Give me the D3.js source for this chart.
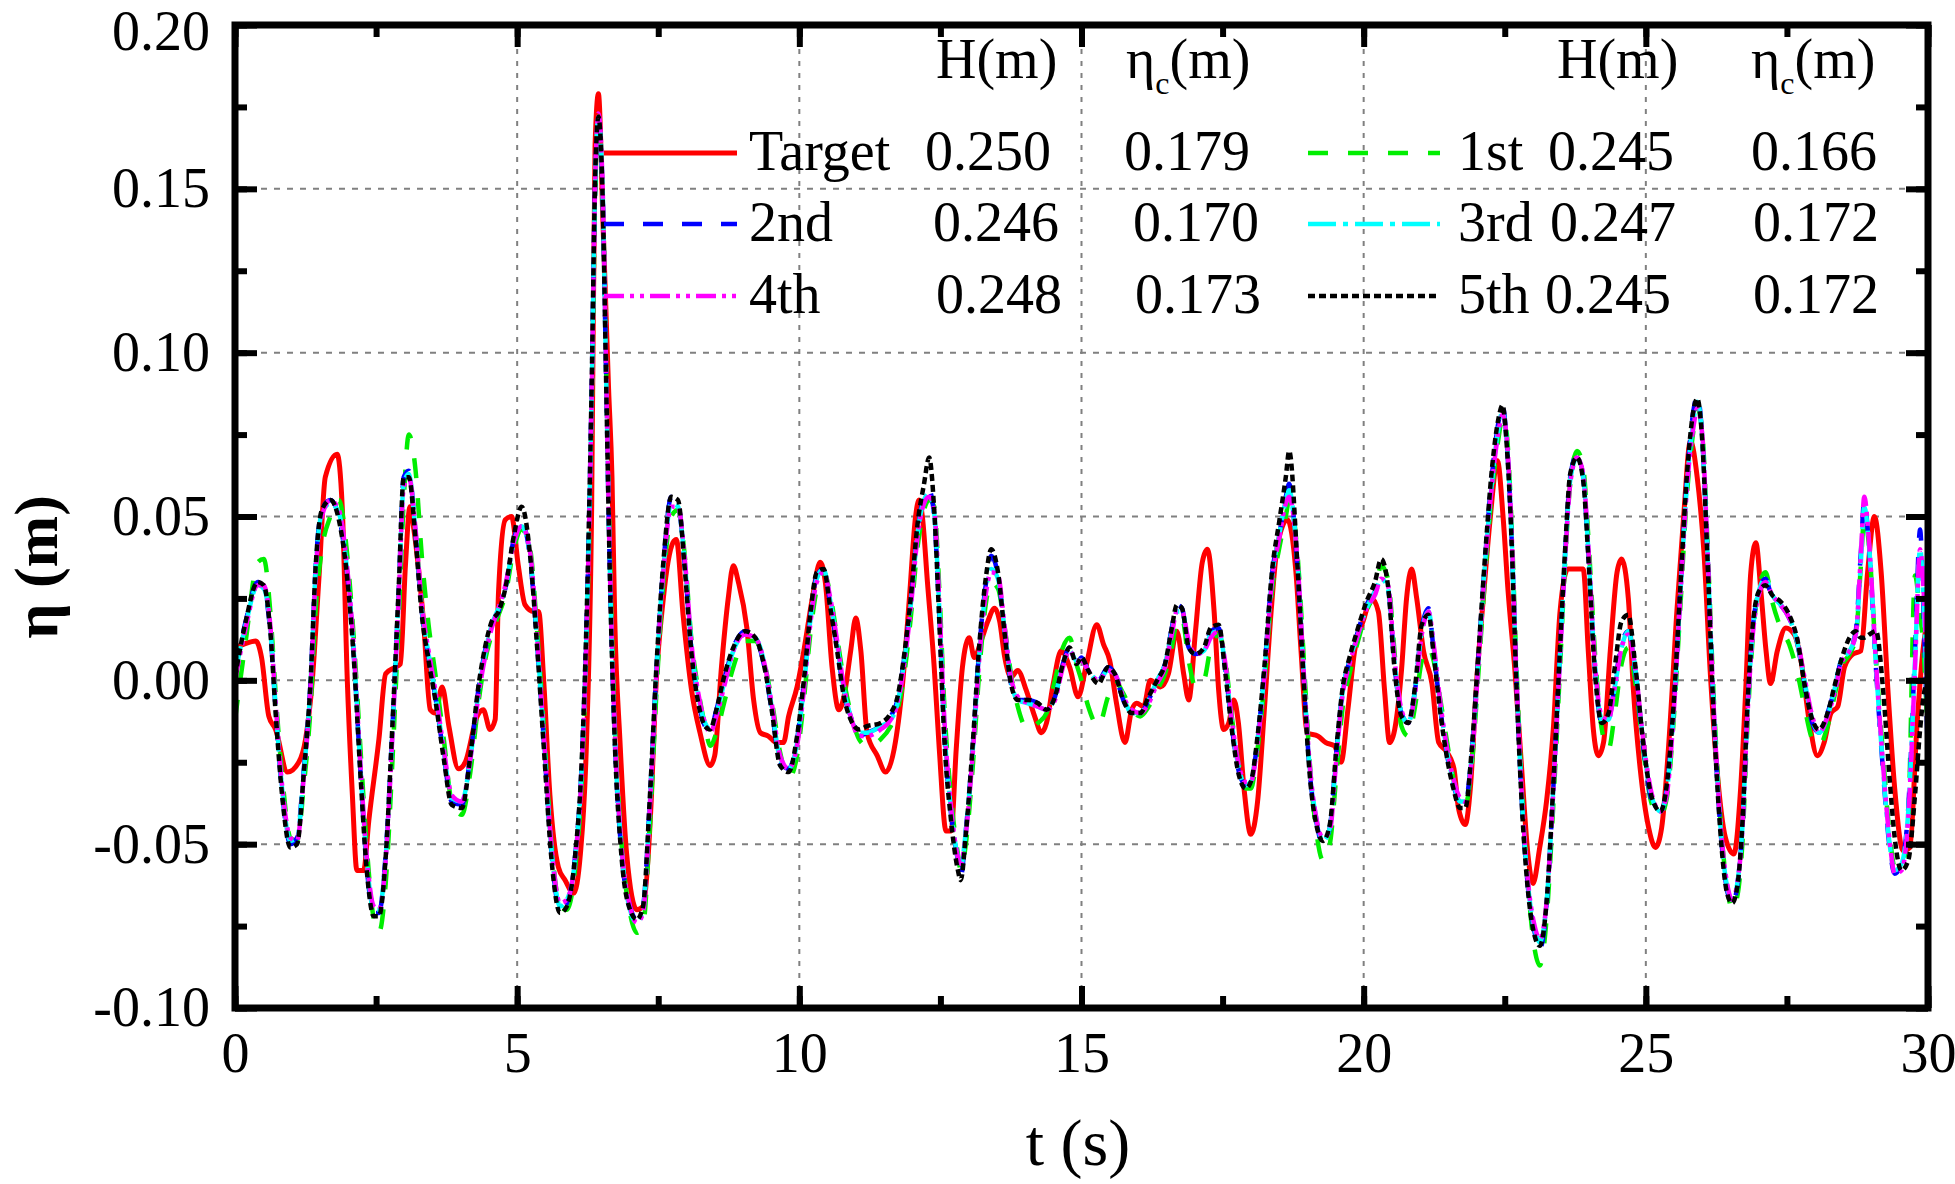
<!DOCTYPE html>
<html>
<head>
<meta charset="utf-8">
<script src="https://cdn.jsdelivr.net/npm/d3@7"></script>
<style>
  body { margin: 0; background: #fff; }
  svg { display: block; font-family: "Liberation Serif", "Times New Roman", serif; }
</style>
</head>
<body>
<svg id="chart"></svg>
<script>
// ---- data ----
const runNames = ["Target", "1st", "2nd", "3rd", "4th", "5th"];
const runH = [0.250, 0.245, 0.246, 0.247, 0.248, 0.245];
const runEtaC = [0.179, 0.166, 0.170, 0.172, 0.173, 0.172];

const xTicks = [0, 5, 10, 15, 20, 25, 30];
const yTicks = [-0.10, -0.05, 0.00, 0.05, 0.10, 0.15, 0.20];

// target wave
const tTarget = [
  0.00,0.15,0.37,0.47,0.60,0.72,0.93,1.13,1.25,1.37,
  1.49,1.60,1.81,1.90,1.99,2.08,2.16,2.28,2.37,2.55,
  2.67,2.84,2.93,3.02,3.10,3.17,3.34,3.46,3.55,3.67,
  3.79,3.96,4.08,4.29,4.40,4.52,4.61,4.67,4.79,4.90,
  5.02,5.14,5.29,5.38,5.47,5.58,5.73,5.85,6.00,6.12,
  6.23,6.32,6.38,6.44,6.52,6.62,6.68,6.73,6.82,6.94,
  7.12,7.23,7.38,7.45,7.59,7.76,7.82,7.94,8.09,8.24,
  8.42,8.50,8.62,8.74,8.83,8.92,9.07,9.19,9.31,9.45,
  9.60,9.72,9.81,9.96,10.08,10.23,10.37,10.46,10.58,10.70,
  10.79,10.91,11.00,11.09,11.20,11.38,11.53,11.68,11.83,11.95,
  12.06,12.12,12.18,12.27,12.39,12.48,12.60,12.69,12.78,12.89,
  13.01,13.10,13.22,13.34,13.46,13.55,13.64,13.75,13.87,14.02,
  14.17,14.29,14.38,14.50,14.64,14.79,14.94,15.09,15.27,15.39,
  15.50,15.62,15.77,15.89,15.98,16.10,16.22,16.40,16.54,16.69,
  16.81,16.90,17.02,17.14,17.23,17.35,17.43,17.52,17.61,17.70,
  17.78,17.88,18.00,18.12,18.24,18.36,18.47,18.65,18.80,18.89,
  19.00,19.19,19.33,19.48,19.60,19.72,19.84,19.99,20.14,20.26,
  20.37,20.46,20.55,20.67,20.76,20.85,20.94,21.06,21.21,21.33,
  21.48,21.60,21.68,21.80,21.89,22.00,22.13,22.24,22.37,22.47,
  22.56,22.68,22.80,22.91,23.00,23.12,23.24,23.36,23.48,23.62,
  23.77,23.89,23.98,24.07,24.16,24.25,24.37,24.49,24.57,24.69,
  24.78,24.90,25.05,25.17,25.28,25.40,25.55,25.67,25.79,25.91,
  26.03,26.14,26.26,26.41,26.56,26.68,26.77,26.86,26.95,27.04,
  27.13,27.21,27.33,27.48,27.63,27.75,27.90,28.04,28.16,28.28,
  28.40,28.52,28.67,28.81,28.93,29.05,29.17,29.29,29.41,29.56,
  29.68,29.80,29.91,30.00
];
const etaTarget = [
  0.010,0.011,0.012,0.007,-0.011,-0.015,-0.028,-0.025,-0.018,0.000,
  0.032,0.062,0.069,0.053,0.000,-0.035,-0.058,-0.058,-0.043,-0.018,
  0.002,0.004,0.005,0.035,0.053,0.046,0.018,-0.009,-0.010,-0.002,
  -0.014,-0.027,-0.025,-0.011,-0.009,-0.015,-0.012,0.027,0.049,0.050,
  0.035,0.023,0.021,0.021,0.000,-0.035,-0.057,-0.061,-0.065,-0.053,
  -0.018,0.053,0.163,0.179,0.140,0.089,0.062,0.018,-0.018,-0.053,
  -0.070,-0.069,-0.035,-0.005,0.025,0.042,0.043,0.020,-0.003,-0.016,
  -0.026,-0.023,0.004,0.025,0.035,0.030,0.016,-0.006,-0.016,-0.017,
  -0.019,-0.019,-0.011,-0.002,0.009,0.025,0.036,0.030,0.004,-0.009,
  -0.005,0.009,0.019,0.009,-0.016,-0.023,-0.028,-0.021,-0.001,0.025,
  0.050,0.055,0.050,0.030,0.004,-0.021,-0.046,-0.046,-0.021,0.004,
  0.013,0.007,0.012,0.018,0.022,0.018,0.007,0.001,0.003,-0.003,
  -0.011,-0.016,-0.013,-0.001,0.009,0.004,-0.005,0.005,0.017,0.011,
  0.006,-0.007,-0.019,-0.009,-0.007,-0.008,0.000,-0.002,0.002,0.015,
  0.002,-0.006,0.015,0.036,0.040,0.021,-0.003,-0.015,-0.013,-0.006,
  -0.013,-0.033,-0.047,-0.037,-0.009,0.021,0.041,0.049,0.033,0.009,
  -0.016,-0.017,-0.019,-0.020,-0.025,-0.009,0.009,0.018,0.025,0.021,
  -0.003,-0.019,-0.015,0.003,0.025,0.034,0.025,0.009,-0.001,-0.019,
  -0.022,-0.027,-0.039,-0.044,-0.033,-0.001,0.027,0.049,0.067,0.050,
  0.027,0.003,-0.027,-0.053,-0.062,-0.051,-0.037,-0.015,0.021,0.034,
  0.034,0.034,0.009,-0.015,-0.023,-0.019,0.009,0.033,0.037,0.025,
  -0.003,-0.027,-0.045,-0.051,-0.045,-0.021,0.021,0.050,0.073,0.062,
  0.039,0.003,-0.027,-0.048,-0.053,-0.033,-0.003,0.033,0.042,0.027,
  0.009,-0.001,0.009,0.016,0.014,0.006,-0.013,-0.023,-0.019,-0.010,
  -0.008,0.004,0.008,0.009,0.033,0.050,0.033,-0.003,-0.033,-0.052,
  -0.051,-0.015,0.009,0.020
];

// shared time base of the five generated runs
const tRun = [
  0.00,0.19,0.40,0.51,0.63,0.72,0.84,0.98,1.10,1.22,
  1.34,1.43,1.54,1.69,1.84,1.99,2.10,2.22,2.34,2.46,
  2.55,2.67,2.78,2.90,2.99,3.08,3.20,3.31,3.43,3.55,
  3.70,3.84,4.02,4.17,4.32,4.43,4.55,4.67,4.79,4.94,
  5.08,5.23,5.35,5.47,5.61,5.76,5.88,6.03,6.14,6.23,
  6.32,6.38,6.44,6.51,6.58,6.64,6.73,6.85,7.00,7.12,
  7.23,7.35,7.47,7.59,7.73,7.85,7.97,8.09,8.21,8.33,
  8.42,8.53,8.68,8.83,9.04,9.22,9.37,9.51,9.66,9.81,
  9.96,10.08,10.20,10.31,10.43,10.55,10.67,10.79,10.91,11.06,
  11.20,11.44,11.62,11.74,11.86,11.98,12.09,12.21,12.30,12.39,
  12.48,12.57,12.69,12.81,12.86,12.95,13.07,13.19,13.31,13.40,
  13.52,13.64,13.75,13.87,14.05,14.23,14.38,14.53,14.67,14.79,
  14.91,15.00,15.12,15.30,15.47,15.59,15.74,15.89,16.04,16.19,
  16.34,16.48,16.60,16.69,16.78,16.90,17.02,17.17,17.29,17.43,
  17.55,17.67,17.79,17.91,18.00,18.12,18.24,18.38,18.50,18.62,
  18.68,18.83,18.95,19.04,19.16,19.28,19.40,19.52,19.63,19.75,
  19.90,20.05,20.20,20.31,20.43,20.55,20.67,20.79,20.91,21.03,
  21.15,21.24,21.36,21.47,21.59,21.71,21.80,21.92,22.04,22.16,
  22.27,22.39,22.46,22.53,22.62,22.70,22.79,22.91,23.03,23.12,
  23.24,23.36,23.48,23.57,23.66,23.78,23.89,23.98,24.10,24.22,
  24.34,24.45,24.57,24.69,24.81,24.96,25.11,25.26,25.37,25.49,
  25.61,25.73,25.85,25.91,26.00,26.09,26.20,26.32,26.44,26.53,
  26.62,26.71,26.80,26.89,27.00,27.12,27.24,27.39,27.54,27.69,
  27.81,27.95,28.07,28.22,28.34,28.46,28.61,28.72,28.81,28.87,
  28.96,29.08,29.20,29.32,29.41,29.53,29.65,29.77,29.86,29.92,
  30.00
];
const eta1st = [
  -0.012,0.012,0.036,0.037,0.020,-0.004,-0.030,-0.048,-0.049,-0.032,
  -0.008,0.022,0.040,0.050,0.055,0.038,0.014,-0.020,-0.052,-0.073,
  -0.077,-0.062,-0.028,0.018,0.055,0.075,0.064,0.038,0.017,0.002,
  -0.018,-0.037,-0.041,-0.028,-0.006,0.006,0.014,0.020,0.026,0.040,
  0.046,0.040,0.016,-0.014,-0.050,-0.069,-0.070,-0.057,-0.032,0.012,
  0.082,0.145,0.166,0.150,0.092,0.040,-0.013,-0.050,-0.071,-0.077,
  -0.075,-0.045,-0.003,0.030,0.050,0.052,0.038,0.012,-0.003,-0.014,
  -0.020,-0.016,-0.006,0.004,0.012,0.012,0.006,-0.006,-0.022,-0.030,
  -0.023,-0.006,0.015,0.028,0.033,0.026,0.013,0.000,-0.010,-0.018,
  -0.020,-0.018,-0.014,-0.009,0.002,0.020,0.040,0.052,0.055,0.053,
  0.028,-0.008,-0.036,-0.053,-0.058,-0.050,-0.027,0.003,0.024,0.030,
  0.028,0.016,0.002,-0.008,-0.015,-0.013,-0.010,0.000,0.010,0.013,
  0.005,0.000,-0.008,-0.014,-0.005,0.000,-0.004,-0.009,-0.011,-0.008,
  -0.003,0.002,0.010,0.018,0.019,0.006,-0.002,0.000,0.010,0.014,
  0.006,-0.012,-0.026,-0.033,-0.033,-0.021,-0.001,0.028,0.040,0.050,
  0.055,0.038,0.003,-0.024,-0.046,-0.055,-0.050,-0.028,-0.008,0.002,
  0.012,0.021,0.027,0.035,0.031,0.008,-0.014,-0.017,-0.008,0.006,
  0.010,0.006,-0.006,-0.018,-0.030,-0.037,-0.038,-0.025,0.004,0.034,
  0.057,0.074,0.080,0.076,0.048,0.008,-0.029,-0.062,-0.082,-0.087,
  -0.073,-0.038,0.004,0.036,0.060,0.070,0.065,0.044,0.008,-0.015,
  -0.021,-0.010,0.005,0.010,0.000,-0.022,-0.038,-0.041,-0.036,-0.013,
  0.022,0.057,0.077,0.083,0.076,0.043,-0.004,-0.042,-0.063,-0.070,
  -0.066,-0.050,-0.014,0.012,0.028,0.033,0.024,0.016,0.011,0.002,
  -0.008,-0.018,-0.020,-0.014,-0.005,0.004,0.008,0.013,0.035,0.050,
  0.040,0.006,-0.022,-0.047,-0.057,-0.057,-0.042,0.032,0.020,0.010,
  -0.020
];
const eta2nd = [
  0.003,0.018,0.030,0.028,0.014,-0.009,-0.035,-0.050,-0.048,-0.027,
  0.000,0.035,0.052,0.055,0.050,0.032,0.009,-0.027,-0.058,-0.071,
  -0.071,-0.053,-0.018,0.027,0.062,0.064,0.044,0.021,0.007,-0.005,
  -0.023,-0.037,-0.038,-0.023,-0.002,0.009,0.017,0.021,0.028,0.043,
  0.048,0.037,0.012,-0.018,-0.053,-0.070,-0.068,-0.053,-0.027,0.018,
  0.089,0.151,0.170,0.151,0.089,0.035,-0.018,-0.053,-0.069,-0.073,
  -0.069,-0.037,0.004,0.035,0.056,0.054,0.035,0.009,-0.006,-0.014,
  -0.015,-0.009,0.001,0.010,0.015,0.013,0.005,-0.009,-0.025,-0.027,
  -0.018,-0.001,0.020,0.032,0.034,0.023,0.010,-0.004,-0.011,-0.017,
  -0.016,-0.014,-0.011,-0.006,0.007,0.025,0.045,0.056,0.058,0.050,
  0.020,-0.016,-0.041,-0.055,-0.060,-0.046,-0.021,0.010,0.030,0.038,
  0.032,0.015,-0.001,-0.006,-0.006,-0.007,-0.009,-0.005,0.005,0.010,
  0.005,0.007,0.003,0.000,0.004,0.002,-0.006,-0.010,-0.010,-0.006,
  0.000,0.005,0.016,0.023,0.022,0.010,0.008,0.009,0.015,0.016,
  0.003,-0.015,-0.028,-0.032,-0.031,-0.018,0.003,0.033,0.044,0.056,
  0.060,0.033,-0.003,-0.027,-0.043,-0.050,-0.045,-0.021,-0.003,0.006,
  0.015,0.023,0.027,0.030,0.028,0.004,-0.010,-0.013,-0.003,0.016,
  0.022,0.009,-0.009,-0.022,-0.032,-0.037,-0.037,-0.021,0.009,0.039,
  0.062,0.079,0.084,0.074,0.044,0.003,-0.033,-0.063,-0.077,-0.082,
  -0.069,-0.033,0.009,0.039,0.062,0.069,0.062,0.039,0.003,-0.013,
  -0.012,-0.001,0.011,0.015,0.003,-0.021,-0.037,-0.040,-0.033,-0.009,
  0.027,0.062,0.083,0.087,0.074,0.039,-0.009,-0.045,-0.064,-0.068,
  -0.063,-0.045,-0.009,0.015,0.027,0.031,0.025,0.023,0.019,0.011,
  -0.001,-0.013,-0.016,-0.010,-0.003,0.006,0.009,0.015,0.039,0.055,
  0.039,0.003,-0.027,-0.051,-0.059,-0.056,-0.039,0.009,0.046,0.021,
  -0.025
];
const eta3rd = [
  0.002,0.017,0.029,0.028,0.015,-0.008,-0.034,-0.049,-0.048,-0.028,
  -0.001,0.034,0.051,0.054,0.051,0.033,0.010,-0.026,-0.056,-0.070,
  -0.070,-0.054,-0.019,0.026,0.060,0.063,0.045,0.022,0.008,-0.004,
  -0.022,-0.036,-0.037,-0.024,-0.003,0.008,0.017,0.022,0.028,0.042,
  0.047,0.038,0.013,-0.017,-0.052,-0.069,-0.067,-0.054,-0.028,0.016,
  0.087,0.150,0.172,0.152,0.090,0.036,-0.017,-0.052,-0.070,-0.074,
  -0.070,-0.038,0.003,0.034,0.054,0.053,0.036,0.010,-0.005,-0.013,
  -0.015,-0.010,0.000,0.009,0.014,0.013,0.006,-0.008,-0.024,-0.027,
  -0.019,-0.002,0.019,0.031,0.034,0.024,0.011,-0.003,-0.011,-0.016,
  -0.016,-0.014,-0.012,-0.007,0.006,0.024,0.044,0.055,0.057,0.051,
  0.022,-0.014,-0.040,-0.054,-0.057,-0.046,-0.022,0.008,0.028,0.034,
  0.031,0.015,0.000,-0.006,-0.007,-0.008,-0.009,-0.005,0.005,0.009,
  0.006,0.006,0.003,0.000,0.003,0.002,-0.005,-0.010,-0.010,-0.006,
  0.000,0.005,0.015,0.021,0.021,0.011,0.008,0.009,0.014,0.015,
  0.004,-0.014,-0.027,-0.032,-0.031,-0.018,0.002,0.032,0.044,0.055,
  0.058,0.035,-0.002,-0.026,-0.042,-0.049,-0.045,-0.022,-0.003,0.006,
  0.014,0.022,0.027,0.031,0.028,0.005,-0.010,-0.013,-0.003,0.015,
  0.021,0.010,-0.008,-0.021,-0.031,-0.037,-0.037,-0.022,0.008,0.038,
  0.060,0.077,0.082,0.074,0.045,0.004,-0.032,-0.062,-0.076,-0.080,
  -0.068,-0.033,0.008,0.038,0.061,0.068,0.062,0.040,0.004,-0.012,
  -0.012,-0.002,0.010,0.015,0.004,-0.020,-0.036,-0.040,-0.034,-0.010,
  0.026,0.060,0.080,0.085,0.074,0.040,-0.008,-0.044,-0.063,-0.067,
  -0.062,-0.045,-0.010,0.014,0.027,0.031,0.026,0.023,0.019,0.011,
  0.000,-0.012,-0.016,-0.011,-0.003,0.006,0.009,0.014,0.036,0.053,
  0.040,0.004,-0.026,-0.050,-0.058,-0.056,-0.040,0.006,0.040,0.025,
  -0.018
];
const eta4th = [
  0.000,0.016,0.029,0.029,0.016,-0.007,-0.033,-0.048,-0.049,-0.029,
  -0.002,0.033,0.050,0.055,0.052,0.034,0.011,-0.025,-0.055,-0.069,
  -0.070,-0.055,-0.020,0.025,0.059,0.062,0.046,0.023,0.009,-0.003,
  -0.021,-0.035,-0.037,-0.024,-0.004,0.007,0.016,0.022,0.029,0.042,
  0.047,0.039,0.014,-0.016,-0.051,-0.068,-0.067,-0.054,-0.029,0.015,
  0.086,0.150,0.173,0.153,0.091,0.037,-0.016,-0.051,-0.069,-0.074,
  -0.071,-0.039,0.002,0.033,0.053,0.053,0.037,0.011,-0.004,-0.013,
  -0.016,-0.011,-0.001,0.009,0.014,0.013,0.006,-0.007,-0.023,-0.027,
  -0.020,-0.003,0.018,0.030,0.033,0.025,0.012,-0.002,-0.011,-0.017,
  -0.017,-0.015,-0.012,-0.007,0.005,0.023,0.043,0.054,0.056,0.052,
  0.024,-0.012,-0.039,-0.054,-0.056,-0.047,-0.023,0.007,0.027,0.033,
  0.032,0.016,0.001,-0.005,-0.007,-0.008,-0.009,-0.006,0.004,0.009,
  0.006,0.006,0.003,0.000,0.003,0.002,-0.005,-0.009,-0.010,-0.007,
  -0.001,0.004,0.014,0.021,0.021,0.012,0.008,0.009,0.013,0.015,
  0.005,-0.013,-0.026,-0.031,-0.031,-0.019,0.001,0.031,0.043,0.054,
  0.056,0.036,-0.001,-0.025,-0.042,-0.048,-0.046,-0.023,-0.004,0.005,
  0.014,0.022,0.026,0.031,0.029,0.006,-0.009,-0.013,-0.004,0.014,
  0.021,0.011,-0.007,-0.020,-0.030,-0.036,-0.037,-0.023,0.007,0.037,
  0.059,0.076,0.081,0.075,0.046,0.005,-0.031,-0.061,-0.075,-0.079,
  -0.068,-0.034,0.007,0.037,0.060,0.068,0.063,0.041,0.005,-0.011,
  -0.012,-0.002,0.010,0.014,0.004,-0.019,-0.035,-0.040,-0.035,-0.011,
  0.025,0.059,0.078,0.083,0.075,0.041,-0.007,-0.043,-0.062,-0.067,
  -0.062,-0.046,-0.011,0.013,0.026,0.030,0.026,0.023,0.019,0.012,
  0.001,-0.011,-0.016,-0.011,-0.004,0.005,0.009,0.014,0.038,0.056,
  0.041,0.005,-0.025,-0.049,-0.059,-0.058,-0.042,0.004,0.040,0.028,
  -0.010
];
const eta5th = [
  0.001,0.018,0.030,0.029,0.014,-0.010,-0.036,-0.051,-0.050,-0.028,
  0.000,0.035,0.052,0.055,0.049,0.031,0.008,-0.028,-0.059,-0.072,
  -0.072,-0.054,-0.017,0.028,0.062,0.062,0.043,0.020,0.006,-0.006,
  -0.024,-0.038,-0.039,-0.023,-0.001,0.010,0.018,0.021,0.028,0.044,
  0.053,0.038,0.011,-0.020,-0.055,-0.071,-0.069,-0.053,-0.026,0.019,
  0.090,0.152,0.172,0.150,0.088,0.034,-0.019,-0.054,-0.070,-0.073,
  -0.069,-0.036,0.005,0.036,0.056,0.055,0.034,0.008,-0.007,-0.014,
  -0.015,-0.009,0.002,0.010,0.015,0.013,0.005,-0.009,-0.026,-0.028,
  -0.017,0.000,0.021,0.033,0.034,0.022,0.009,-0.005,-0.012,-0.015,
  -0.014,-0.013,-0.010,-0.005,0.008,0.026,0.047,0.060,0.068,0.052,
  0.018,-0.018,-0.043,-0.058,-0.061,-0.047,-0.020,0.011,0.032,0.040,
  0.033,0.014,-0.001,-0.006,-0.006,-0.007,-0.009,-0.005,0.005,0.010,
  0.005,0.007,0.003,-0.001,0.004,0.002,-0.006,-0.010,-0.010,-0.005,
  0.000,0.005,0.016,0.023,0.022,0.010,0.008,0.010,0.016,0.017,
  0.002,-0.016,-0.029,-0.033,-0.031,-0.017,0.004,0.034,0.048,0.062,
  0.070,0.034,-0.004,-0.028,-0.044,-0.049,-0.044,-0.020,-0.002,0.007,
  0.016,0.024,0.030,0.037,0.029,0.003,-0.011,-0.013,-0.002,0.017,
  0.020,0.008,-0.010,-0.023,-0.033,-0.039,-0.039,-0.020,0.010,0.040,
  0.064,0.080,0.084,0.073,0.043,0.002,-0.034,-0.064,-0.078,-0.081,
  -0.068,-0.032,0.010,0.040,0.063,0.068,0.061,0.038,0.002,-0.013,
  -0.010,0.004,0.018,0.020,0.005,-0.020,-0.036,-0.040,-0.032,-0.008,
  0.028,0.063,0.083,0.086,0.073,0.038,-0.010,-0.046,-0.065,-0.068,
  -0.063,-0.044,-0.008,0.016,0.027,0.029,0.026,0.024,0.020,0.012,
  -0.001,-0.012,-0.015,-0.010,-0.002,0.006,0.013,0.015,0.013,0.013,
  0.014,0.015,-0.002,-0.030,-0.048,-0.058,-0.055,-0.035,-0.015,-0.005,
  0.000
];

// ---- layout ----
const width = 1955, height = 1184;
const plot = { left: 235, top: 25, right: 1928, bottom: 1008 };
const font = '"Liberation Serif", "Times New Roman", serif';

const svg = d3.select("#chart").attr("width", width).attr("height", height);
svg.append("rect").attr("width", width).attr("height", height).attr("fill", "#fff");

const x = d3.scaleLinear().domain([0, 30]).range([plot.left, plot.right]);
const y = d3.scaleLinear().domain([-0.1, 0.2]).range([plot.bottom, plot.top]);

// grid
const grid = svg.append("g").attr("stroke", "#808080").attr("stroke-width", 2);
grid.selectAll("line.gx")
  .data(xTicks.slice(1, -1))
  .join("line")
  .attr("class", "gx")
  .attr("x1", d => x(d)).attr("x2", d => x(d))
  .attr("y1", plot.top).attr("y2", plot.bottom)
  .attr("stroke-dasharray", "5,7");
grid.selectAll("line.gy")
  .data(yTicks.slice(1, -1))
  .join("line")
  .attr("class", "gy")
  .attr("y1", d => y(d)).attr("y2", d => y(d))
  .attr("x1", plot.left).attr("x2", plot.right)
  .attr("stroke-dasharray", "6,7");

// series
const series = [
  { name: "Target", t: tTarget, v: etaTarget, color: "#ff0000", dash: null, w: 5 },
  { name: "1st", t: tRun, v: eta1st, color: "#00ee00", dash: "20,20", w: 4.5 },
  { name: "2nd", t: tRun, v: eta2nd, color: "#0000ff", dash: "20,19", w: 4.5 },
  { name: "3rd", t: tRun, v: eta3rd, color: "#00ffff", dash: "28,7,5,7", w: 4.5 },
  { name: "4th", t: tRun, v: eta4th, color: "#ff00ff", dash: "20,6,4,6,4,6", w: 4.5 },
  { name: "5th", t: tRun, v: eta5th, color: "#000000", dash: "7,4", w: 4.5 }
];

const line = d3.line()
  .x(d => x(d[0]))
  .y(d => y(d[1]))
  .curve(d3.curveMonotoneX);

svg.append("g")
  .selectAll("path")
  .data(series)
  .join("path")
  .attr("d", s => line(d3.zip(s.t, s.v)))
  .attr("fill", "none")
  .attr("stroke", s => s.color)
  .attr("stroke-width", s => s.w)
  .attr("stroke-dasharray", s => s.dash)
  .attr("stroke-linejoin", "round");

// axes (ticks inward on all four sides)
const fmtY = d => d3.format(".2f")(d).replace("\u2212", "-");
const xMinor = d3.range(0, 30.01, 2.5);
const yMinor = d3.range(-0.1, 0.2001, 0.025);

function styleAxis(g) {
  g.select(".domain").remove();
  g.selectAll(".tick line").attr("stroke", "#000").attr("stroke-width", 6);
  g.selectAll(".tick text")
    .attr("fill", "#000")
    .style("font-family", font)
    .style("font-size", "56px");
}

svg.append("g").attr("transform", `translate(0,${plot.bottom})`)
  .call(d3.axisBottom(x).tickValues(xMinor).tickSize(-12).tickSizeOuter(0).tickFormat(""))
  .call(styleAxis);
svg.append("g").attr("transform", `translate(0,${plot.bottom})`)
  .call(d3.axisBottom(x).tickValues(xTicks).tickSize(-22).tickSizeOuter(0).tickPadding(24).tickFormat(d3.format("d")))
  .call(styleAxis);
svg.append("g").attr("transform", `translate(0,${plot.top})`)
  .call(d3.axisTop(x).tickValues(xMinor).tickSize(-12).tickSizeOuter(0).tickFormat(""))
  .call(styleAxis);
svg.append("g").attr("transform", `translate(0,${plot.top})`)
  .call(d3.axisTop(x).tickValues(xTicks).tickSize(-22).tickSizeOuter(0).tickFormat(""))
  .call(styleAxis);

svg.append("g").attr("transform", `translate(${plot.left},0)`)
  .call(d3.axisLeft(y).tickValues(yMinor).tickSize(-12).tickSizeOuter(0).tickFormat(""))
  .call(styleAxis);
svg.append("g").attr("transform", `translate(${plot.left},0)`)
  .call(d3.axisLeft(y).tickValues(yTicks).tickSize(-22).tickSizeOuter(0).tickPadding(25).tickFormat(fmtY))
  .call(styleAxis)
  .call(g => g.selectAll(".tick text").filter(d => d === 0.2).attr("y", 7));
svg.append("g").attr("transform", `translate(${plot.right},0)`)
  .call(d3.axisRight(y).tickValues(yMinor).tickSize(-12).tickSizeOuter(0).tickFormat(""))
  .call(styleAxis);
svg.append("g").attr("transform", `translate(${plot.right},0)`)
  .call(d3.axisRight(y).tickValues(yTicks).tickSize(-22).tickSizeOuter(0).tickFormat(""))
  .call(styleAxis);

// frame
svg.append("rect")
  .attr("x", plot.left).attr("y", plot.top)
  .attr("width", plot.right - plot.left).attr("height", plot.bottom - plot.top)
  .attr("fill", "none").attr("stroke", "#000").attr("stroke-width", 7);

// axis titles
svg.append("text")
  .attr("x", 1078).attr("y", 1165)
  .attr("text-anchor", "middle")
  .style("font-family", font).style("font-size", "66px")
  .text("t (s)");
svg.append("text")
  .attr("transform", "translate(57,567) rotate(-90)")
  .attr("text-anchor", "middle")
  .style("font-family", font).style("font-size", "62px").style("font-weight", "bold")
  .text("\u03b7 (m)");

// legend table
const legCols = [
  { x1: 604, x2: 737, tx: 749, hHead: 936, eHead: 1126 },
  { x1: 1308, x2: 1440, tx: 1458, hHead: 1557, eHead: 1751 }
];
const legRows = [170, 241, 313];
const legSlot = {
  "Target": { col: 0, row: 0, hx: 925, ex: 1124 },
  "2nd": { col: 0, row: 1, hx: 933, ex: 1133 },
  "4th": { col: 0, row: 2, hx: 936, ex: 1135 },
  "1st": { col: 1, row: 0, hx: 1548, ex: 1751 },
  "3rd": { col: 1, row: 1, hx: 1550, ex: 1753 },
  "5th": { col: 1, row: 2, hx: 1545, ex: 1753 }
};

const leg = svg.append("g").style("font-family", font).style("font-size", "56px");

legCols.forEach(c => {
  leg.append("text").attr("x", c.hHead).attr("y", 78).text("H(m)");
  const e = leg.append("text").attr("x", c.eHead).attr("y", 78);
  e.append("tspan").text("\u03b7");
  e.append("tspan").attr("dy", 16).style("font-size", "32px").text("c");
  e.append("tspan").attr("dy", -16).text("(m)");
});

runNames.forEach((name, i) => {
  const s = legSlot[name];
  const c = legCols[s.col];
  const by = legRows[s.row];
  const sty = series[i];
  leg.append("line")
    .attr("x1", c.x1).attr("x2", c.x2)
    .attr("y1", by - 17).attr("y2", by - 17)
    .attr("stroke", sty.color)
    .attr("stroke-width", sty.w)
    .attr("stroke-dasharray", sty.dash);
  leg.append("text").attr("x", c.tx).attr("y", by).text(name);
  leg.append("text").attr("x", s.hx).attr("y", by).text(runH[i].toFixed(3));
  leg.append("text").attr("x", s.ex).attr("y", by).text(runEtaC[i].toFixed(3));
});
</script>
</body>
</html>
